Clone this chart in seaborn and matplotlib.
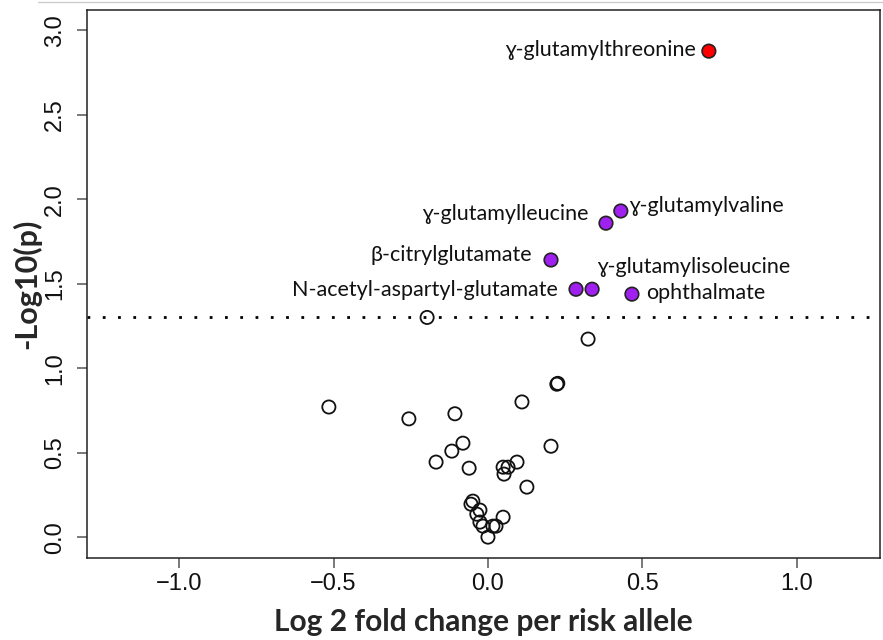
import matplotlib
matplotlib.use("Agg")
import matplotlib.pyplot as plt
from matplotlib.lines import Line2D
import seaborn as sns
import numpy as np
import pandas as pd

# ---- data ----
other_log2fc = [-0.515, -0.256, -0.197, 0.324, 0.223, 0.226, 0.110, -0.107,
                -0.081, -0.117, -0.168, -0.061, 0.204, 0.094, 0.049, 0.065,
                0.052, 0.126, -0.049, -0.055, -0.026, -0.036, 0.049, -0.026,
                -0.016, 0.016, 0.026, 0.000]
other_neglogp = [0.770, 0.700, 1.300, 1.172, 0.905, 0.910, 0.800, 0.730,
                 0.556, 0.509, 0.444, 0.408, 0.538, 0.444, 0.414, 0.414,
                 0.373, 0.296, 0.213, 0.195, 0.160, 0.136, 0.118, 0.089,
                 0.065, 0.065, 0.065, 0.000]

sig_names = ["ɣ-glutamylthreonine", "ɣ-glutamylvaline", "ɣ-glutamylleucine",
             "β-citrylglutamate", "N-acetyl-aspartyl-glutamate",
             "ɣ-glutamylisoleucine", "ophthalmate"]
sig_log2fc = [0.715, 0.430, 0.382, 0.204, 0.285, 0.337, 0.466]
sig_neglogp = [2.876, 1.930, 1.858, 1.640, 1.467, 1.467, 1.438]
sig_group = ["top", "sig", "sig", "sig", "sig", "sig", "sig"]

x_ticks = [-1.0, -0.5, 0.0, 0.5, 1.0]
y_ticks = [0.0, 0.5, 1.0, 1.5, 2.0, 2.5, 3.0]
p_threshold = 0.05

# label placement (offset in pixels, horizontal alignment)
label_offsets = [(-13, 1, "right"), (8, 5, "left"), (-17, 9, "right"),
                 (-19, 5, "right"), (-18, -1, "right"), (5, 22, "left"),
                 (14, 1, "left")]

sns.set_style("white")
plt.rcParams["font.family"] = ["Liberation Sans", "DejaVu Sans"]

fig = plt.figure(figsize=(8.83, 6.40), dpi=100)
ax = fig.add_axes([0.0985, 0.128, 0.8981, 0.856])

df_other = pd.DataFrame({"fc": other_log2fc, "p": other_neglogp})
df_sig = pd.DataFrame({"fc": sig_log2fc, "p": sig_neglogp, "g": sig_group})

sns.scatterplot(data=df_other, x="fc", y="p", ax=ax, s=90, marker="o",
                color="black", edgecolor="#111111", linewidth=1.3, zorder=3)
ax.collections[-1].set_facecolor("none")

sns.scatterplot(data=df_sig, x="fc", y="p", hue="g", ax=ax, s=95, marker="o",
                palette={"top": "#FF0000", "sig": "#A020F0"},
                edgecolor="#222222", linewidth=1.2, legend=False, zorder=4)

ax.axhline(-np.log10(p_threshold), color="black", lw=2,
           linestyle=(0, (1, 4.5)), zorder=2)

label_font = ["Lato", "DejaVu Sans"]
for name, xv, yv, (dx, dy, ha) in zip(sig_names, sig_log2fc, sig_neglogp, label_offsets):
    ax.annotate(name, xy=(xv, yv), xytext=(dx, dy), textcoords="offset pixels",
                ha=ha, va="center", fontsize=15.5, family=label_font,
                color="#111111")

ax.set_xlim(-1.298, 1.269)
ax.set_ylim(-0.124, 3.118)
ax.set_xticks(x_ticks)
ax.set_yticks(y_ticks)
ax.set_xticklabels([f"{t:.1f}".replace("-", "\u2212") for t in x_ticks], fontsize=17)
ax.set_yticklabels([f"{t:.1f}" for t in y_ticks], fontsize=17, rotation=90, va="center")
ax.tick_params(axis="both", direction="out", length=7, width=1.1, color="#555555",
               labelcolor="#111111", left=True, bottom=True)
ax.tick_params(axis="x", pad=4)
ax.tick_params(axis="y", pad=8)
for sp in ax.spines.values():
    sp.set_visible(True)
    sp.set_color("#222222")
    sp.set_linewidth(1.1)

ax.set_xlabel("Log 2 fold change per risk allele", fontsize=21.5, fontweight="bold",
              family=["Lato", "DejaVu Sans"], labelpad=9)
ax.set_ylabel("-Log10(p)", fontsize=22, fontweight="bold",
              family=["Lato", "DejaVu Sans"], labelpad=2)

fig.add_artist(Line2D([38 / 883, 1.0], [1 - 2 / 640, 1 - 2 / 640],
                      transform=fig.transFigure, color="#cccccc", lw=1))

fig.savefig("out.png", dpi=100)
